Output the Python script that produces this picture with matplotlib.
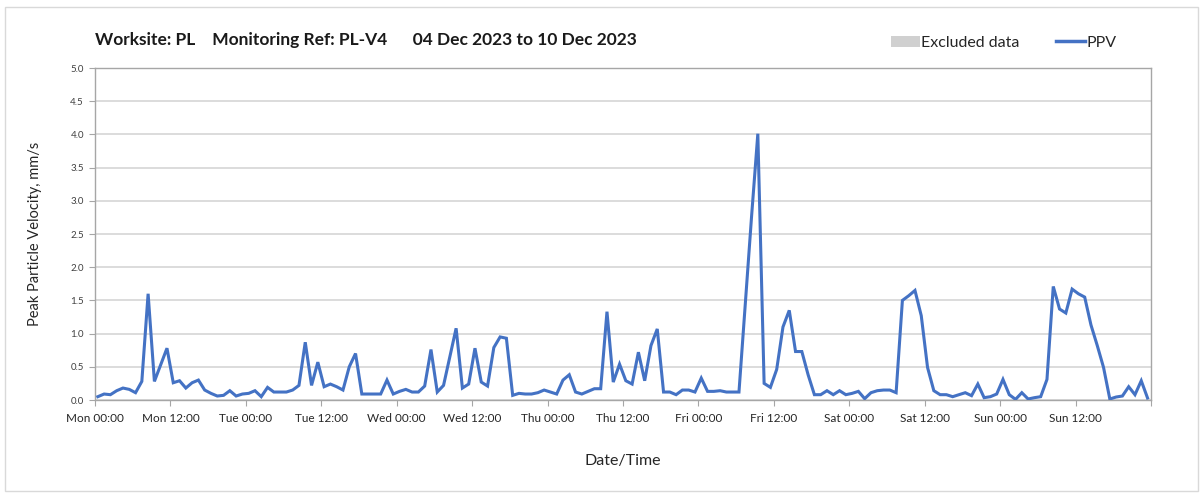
import matplotlib
matplotlib.use("Agg")
import matplotlib.pyplot as plt
from matplotlib.patches import Rectangle
from matplotlib.lines import Line2D
import numpy as np

# hour index since Mon 00:00 (samples taken ~27 min past each hour)
hours = [0, 1, 2, 3, 4, 5, 6, 7, 8, 9, 11, 12, 13, 14, 15, 16, 17, 18, 19, 20,
         21, 22, 23, 24, 25, 26, 27, 28, 29, 30, 31, 32, 33, 34, 35, 36, 37, 38, 39, 40,
         41, 42, 43, 44, 45, 46, 47, 48, 49, 50, 51, 52, 53, 54, 55, 57, 58, 59, 60, 61,
         62, 63, 64, 65, 66, 67, 68, 69, 70, 71, 72, 73, 74, 75, 76, 77, 78, 79, 80, 81,
         82, 83, 84, 85, 86, 87, 88, 89, 90, 91, 92, 93, 94, 95, 96, 97, 98, 99, 100, 101,
         102, 104, 105, 106, 107, 108, 109, 110, 111, 112, 113, 114, 115, 116, 117, 118, 119, 120, 121, 122,
         123, 124, 125, 126, 127, 128, 129, 130, 131, 132, 133, 134, 135, 136, 137, 138, 139, 140, 141, 142,
         143, 144, 145, 146, 147, 148, 149, 150, 151, 152, 153, 154, 155, 156, 157, 158, 159, 160, 161, 162,
         163, 164, 165, 166, 167]
ppv = [0.05, 0.09, 0.08, 0.14, 0.18, 0.16, 0.11, 0.28, 1.60, 0.28, 0.78, 0.26, 0.29, 0.18, 0.26, 0.30, 0.15, 0.10, 0.06, 0.07,
       0.14, 0.06, 0.09, 0.10, 0.14, 0.05, 0.19, 0.12, 0.12, 0.12, 0.15, 0.22, 0.87, 0.22, 0.57, 0.20, 0.24, 0.20, 0.15, 0.50,
       0.70, 0.09, 0.09, 0.09, 0.09, 0.30, 0.09, 0.13, 0.16, 0.12, 0.12, 0.21, 0.76, 0.12, 0.22, 1.08, 0.18, 0.24, 0.78, 0.27,
       0.21, 0.79, 0.95, 0.93, 0.07, 0.10, 0.09, 0.09, 0.11, 0.15, 0.12, 0.09, 0.30, 0.38, 0.12, 0.09, 0.13, 0.17, 0.17, 1.33,
       0.27, 0.54, 0.29, 0.24, 0.72, 0.29, 0.82, 1.07, 0.12, 0.12, 0.08, 0.15, 0.15, 0.12, 0.33, 0.13, 0.13, 0.14, 0.12, 0.12,
       0.12, 2.76, 4.01, 0.25, 0.19, 0.46, 1.10, 1.35, 0.73, 0.73, 0.38, 0.08, 0.08, 0.14, 0.08, 0.14, 0.08, 0.10, 0.13, 0.02,
       0.11, 0.14, 0.15, 0.15, 0.11, 1.50, 1.57, 1.65, 1.27, 0.49, 0.14, 0.08, 0.08, 0.05, 0.08, 0.11, 0.065, 0.24, 0.035, 0.05,
       0.09, 0.31, 0.08, 0.01, 0.11, 0.015, 0.035, 0.05, 0.31, 1.71, 1.37, 1.31, 1.67, 1.60, 1.55, 1.13, 0.82, 0.49, 0.015, 0.045,
       0.06, 0.20, 0.08, 0.29, 0.03]
sample_offset_h = 0.45

tick_labels = ["Mon 00:00", "Mon 12:00", "Tue 00:00", "Tue 12:00", "Wed 00:00", "Wed 12:00",
               "Thu 00:00", "Thu 12:00", "Fri 00:00", "Fri 12:00", "Sat 00:00", "Sat 12:00",
               "Sun 00:00", "Sun 12:00", ""]
title = "Worksite: PL    Monitoring Ref: PL-V4      04 Dec 2023 to 10 Dec 2023"

plt.rcParams['font.family'] = ['Lato', 'DejaVu Sans']

fig = plt.figure(figsize=(12.03, 4.93), dpi=100)
fig.patches.append(Rectangle((0.004, 0.004), 0.992, 0.982, transform=fig.transFigure,
                             fill=False, edgecolor='#d9d9d9', linewidth=1.0))
ax = fig.add_axes([95/1203, 1 - 400/493, (1151-95)/1203, (400-68)/493])

x = np.array(hours, dtype=float) + sample_offset_h
ax.plot(x, ppv, color='#4472C4', linewidth=2.2, solid_joinstyle='miter', zorder=3)

ax.set_xlim(0, 168)
ax.set_ylim(0, 5.0)
ax.set_yticks(np.arange(0, 5.01, 0.5))
ax.set_yticklabels([f"{v:.1f}" for v in np.arange(0, 5.01, 0.5)], fontsize=7, color='#404040')
ax.set_xticks(np.arange(0, 169, 12))
ax.set_xticklabels(tick_labels, fontsize=8.5, color='#262626')
ax.set_xticks(np.arange(0, 169, 24), minor=True)
ax.grid(True, which='major', axis='y', color='#d9d9d9', linewidth=1.3)
ax.grid(True, which='minor', axis='x', color='#d9d9d9', linewidth=1.3)
ax.tick_params(axis='x', which='minor', length=0)
ax.tick_params(axis='both', which='major', length=4, color='#a6a6a6')
ax.tick_params(axis='x', which='major', pad=5)
ax.tick_params(axis='y', which='major', pad=4)
for s in ax.spines.values():
    s.set_color('#a6a6a6')
    s.set_linewidth(1.0)

ax.set_ylabel("Peak Particle Velocity, mm/s", fontsize=10.5, color='#262626', labelpad=20)
ax.set_xlabel("Date/Time", fontsize=11.5, color='#262626', labelpad=22)

fig.text(95/1203, 1 - 40/493, title, fontsize=12.5, fontweight='bold', color='#1a1a1a',
         va='center', ha='left')

handles = [Rectangle((0, 0), 1, 1, facecolor='#d0d0d0', edgecolor='none'),
           Line2D([0], [0], color='#4472C4', linewidth=2.5)]
fig.legend(handles, ["Excluded data", "PPV"], loc='center', bbox_to_anchor=(1004/1203, 1 - 43/493),
           ncol=2, frameon=False, fontsize=11.5, handlelength=1.8, handletextpad=0.1, columnspacing=2.3,
           labelcolor='#262626')

fig.savefig("out.png", dpi=100)
